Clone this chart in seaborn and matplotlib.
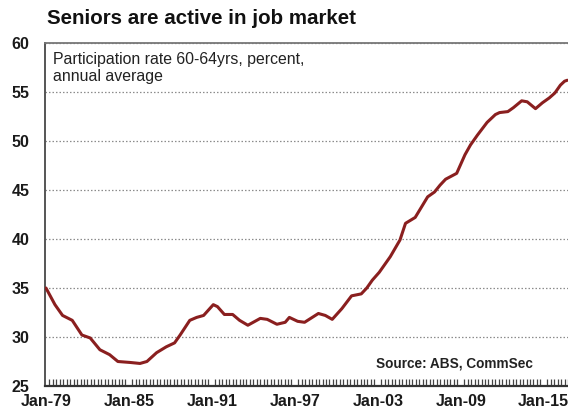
import matplotlib
matplotlib.use("Agg")
import matplotlib.pyplot as plt
from matplotlib.ticker import MultipleLocator
import seaborn as sns
import pandas as pd

# Participation rate, persons aged 60-64, annual average (%)
years = [1979.0, 1979.65, 1980.2, 1980.9, 1981.6, 1982.2, 1982.9, 1983.6,
         1984.2, 1985.1, 1985.8, 1986.3, 1987.0, 1987.7, 1988.3, 1988.7,
         1989.4, 1989.9, 1990.4, 1991.1, 1991.4, 1991.9, 1992.5, 1993.0,
         1993.6, 1994.5, 1995.0, 1995.7, 1996.3, 1996.6, 1997.2, 1997.7,
         1998.7, 1999.2, 1999.7, 2000.4, 2001.1, 2001.8, 2002.2, 2002.6,
         2003.1, 2003.9, 2004.6, 2005.0, 2005.7, 2006.6, 2007.1, 2007.5,
         2007.9, 2008.7, 2009.3, 2009.7, 2010.2, 2010.9, 2011.5, 2011.8,
         2012.4, 2012.8, 2013.4, 2013.8, 2014.4, 2014.9, 2015.4, 2015.8,
         2016.2, 2016.5, 2016.7]
rate = [35.0, 33.3, 32.2, 31.7, 30.2, 29.9, 28.7, 28.2,
        27.5, 27.4, 27.3, 27.5, 28.4, 29.0, 29.4, 30.2,
        31.7, 32.0, 32.2, 33.3, 33.1, 32.3, 32.3, 31.7,
        31.2, 31.9, 31.8, 31.3, 31.5, 32.0, 31.6, 31.5,
        32.4, 32.2, 31.8, 32.9, 34.2, 34.4, 35.0, 35.8,
        36.6, 38.2, 39.9, 41.6, 42.2, 44.3, 44.8, 45.5,
        46.1, 46.7, 48.6, 49.6, 50.6, 51.9, 52.7, 52.9,
        53.0, 53.4, 54.1, 54.0, 53.3, 53.9, 54.4, 54.9,
        55.7, 56.1, 56.2]

tick_years = [1979, 1985, 1991, 1997, 2003, 2009, 2015]
tick_labels = ["Jan-79", "Jan-85", "Jan-91", "Jan-97", "Jan-03", "Jan-09", "Jan-15"]
y_ticks = [25, 30, 35, 40, 45, 50, 55, 60]

title = "Seniors are active in job market"
subtitle = "Participation rate 60-64yrs, percent,\nannual average"
source = "Source: ABS, CommSec"

sns.set_style("white")
plt.rcParams["font.family"] = ["Liberation Sans", "DejaVu Sans"]

df = pd.DataFrame({"year": years, "rate": rate})

W, H = 568, 408
ax_left, ax_bottom, ax_top = 45, 386, 43
fig = plt.figure(figsize=(W / 100, H / 100), dpi=100)
ax = fig.add_axes([ax_left / W, (H - ax_bottom) / H,
                   1 - ax_left / W, (ax_bottom - ax_top) / H])

sns.lineplot(data=df, x="year", y="rate", ax=ax, color="#8a1f1f",
             linewidth=2.2, zorder=3)

ax.set_xlim(1978.93, 2016.75)
ax.set_ylim(25, 60)
ax.set_xlabel("")
ax.set_ylabel("")

ax.set_yticks(y_ticks)
ax.set_yticklabels([str(v) for v in y_ticks], fontsize=11.5, fontweight="bold")
ax.set_xticks(tick_years)
ax.set_xticklabels(tick_labels, fontsize=11.5, fontweight="bold")
ax.xaxis.set_minor_locator(MultipleLocator(0.25))

ax.grid(axis="y", linestyle=(0, (1.2, 1.6)), color="#8c8c8c", linewidth=0.9)
ax.grid(axis="x", visible=False)

ax.tick_params(axis="y", which="major", length=7, width=0.8, color="#aaaaaa",
               direction="out", pad=4, labelcolor="#1a1a1a")
ax.tick_params(axis="x", which="major", length=6, width=0.9, color="#444444",
               direction="in", pad=6, labelcolor="#1a1a1a")
ax.tick_params(axis="x", which="minor", length=5, width=0.9, color="#444444",
               direction="in", bottom=True)

for side in ("left", "bottom", "top"):
    ax.spines[side].set_visible(True)
ax.spines["right"].set_visible(False)
ax.spines["left"].set_color("#555555")
ax.spines["left"].set_linewidth(1.4)
ax.spines["bottom"].set_color("#333333")
ax.spines["bottom"].set_linewidth(1.6)
ax.spines["top"].set_color("#777777")
ax.spines["top"].set_linewidth(1.3)

ax_w = W - ax_left
ax_h = ax_bottom - ax_top
fig.text(47 / W, 1 - 19 / H, title, fontsize=14.8, fontweight="bold",
         va="center", ha="left", color="#111111")
ax.text((53 - ax_left) / ax_w, 1 - (52 - ax_top) / ax_h, subtitle,
        transform=ax.transAxes, fontsize=11.4, va="top", ha="left",
        color="#222222", linespacing=1.15)
ax.text((533 - ax_left) / ax_w, (ax_bottom - 363) / ax_h, source,
        transform=ax.transAxes, fontsize=9.8, fontweight="bold",
        va="center", ha="right", color="#222222")

fig.savefig("out.png", dpi=100)
